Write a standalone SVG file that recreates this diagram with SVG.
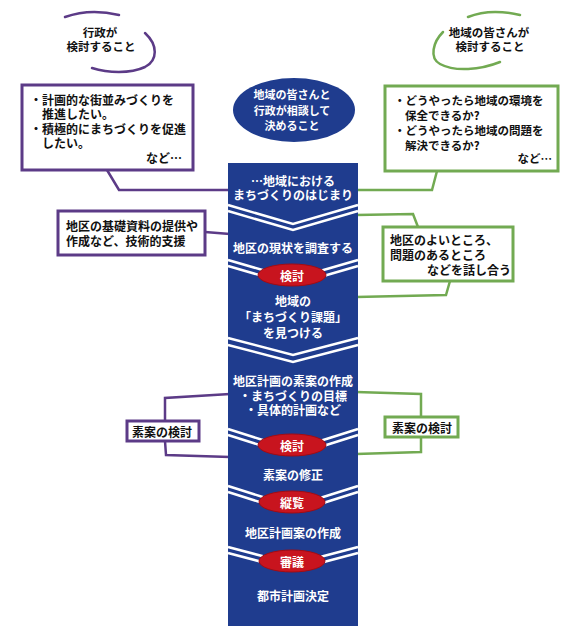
<svg xmlns="http://www.w3.org/2000/svg" width="580" height="637" viewBox="0 0 580 637">
<style>
text{font-family:"Noto Sans CJK JP","Noto Sans",sans-serif;font-weight:bold;font-size:12px;dominant-baseline:central}
.w{fill:#fff;text-anchor:middle}
.k{fill:#111}
.c{text-anchor:middle}
.pb{fill:#fff;stroke:#5c3b87;stroke-width:3}
.gb{fill:#fff;stroke:#72aa52;stroke-width:3}
.pl{fill:none;stroke:#5c3b87;stroke-width:2.5}
.gl{fill:none;stroke:#72aa52;stroke-width:2.5}
.sw{stroke-linecap:round}
.wl{fill:none;stroke:#fff;stroke-width:2.5}
.red{fill:#c8141e;stroke:#a00c14;stroke-width:1}
</style>
<rect width="580" height="637" fill="#fff"/>
<g id="connectors">
<path class="pl" d="M107,170 L119,190 L230,190"/>
<path class="gl" d="M437,171 L432,190 L356,190"/>
<path class="pl" d="M205,232 L230,234"/>
<path class="gl" d="M356,215 L413,214 L418,227"/>
<path class="gl" d="M450,281 L446,295 L356,297"/>
<path class="pl" d="M230,394 L165,398 L165,421 M165,441 L166,455 L230,457"/>
<path class="gl" d="M356,392 L421,394 L421,417 M421,437 L421,452 L356,454"/>
</g>
<g id="swoosh-admin">
<path class="pl sw" d="M65,17 Q90,8 119,15"/>
<path class="pl sw" d="M145,33 C158,45 158,60 145,67 C130,74 108,73 92,68"/>
<text class="k c" x="100" y="32" style="font-size:11.5px">行政が</text>
<text class="k c" x="101" y="46" style="font-size:11.5px">検討すること</text>
</g>
<g id="swoosh-residents">
<path class="gl sw" d="M468,17 Q490,8 520,15"/>
<path class="gl sw" d="M443,32 C433,42 429,58 440,64 C455,72 480,70 500,62"/>
<text class="k c" x="489" y="32" style="font-size:11.5px">地域の皆さんが</text>
<text class="k c" x="490" y="46" style="font-size:11.5px">検討すること</text>
</g>
<g id="box-admin">
<rect class="pb" x="22" y="85" width="171" height="85"/>
<text class="k" x="30" y="99">・計画的な街並みづくりを</text>
<text class="k" x="42" y="113">推進したい。</text>
<text class="k" x="30" y="128">・積極的にまちづくりを促進</text>
<text class="k" x="42" y="142">したい。</text>
<text class="k" x="182" y="157" text-anchor="end">など…</text>
</g>
<g id="box-residents">
<rect class="gb" x="385" y="86" width="173" height="85"/>
<text class="k" x="394" y="100" style="font-size:11.5px">・どうやったら地域の環境を</text>
<text class="k" x="405" y="115" style="font-size:11.5px">保全できるか?</text>
<text class="k" x="394" y="130" style="font-size:11.5px">・どうやったら地域の問題を</text>
<text class="k" x="405" y="145" style="font-size:11.5px">解決できるか?</text>
<text class="k" x="552" y="158" text-anchor="end" style="font-size:11.5px">など…</text>
</g>
<g id="ellipse-joint">
<ellipse cx="294" cy="110" rx="61" ry="32" fill="#1f3c8e"/>
<text class="w" x="292" y="94" style="font-size:11px">地域の皆さんと</text>
<text class="w" x="292" y="110" style="font-size:11px">行政が相談して</text>
<text class="w" x="292" y="125" style="font-size:11px">決めること</text>
</g>
<g id="column">
<rect x="228" y="163" width="130" height="463" fill="#1f3c8e"/>
<text class="w" x="293" y="180">…地域における</text>
<text class="w" x="293" y="194">まちづくりのはじまり</text>
<path class="wl" d="M228,205 L293,224 L358,205 M228,211 L293,230 L358,211"/>
<text class="w" x="293" y="247">地区の現状を調査する</text>
<path class="wl" d="M228,260 L266,271 M228,266 L266,277 M358,260 L320,271 M358,266 L320,277"/>
<text class="w" x="293" y="300">地域の</text>
<text class="w" x="293" y="316">「まちづくり課題」</text>
<text class="w" x="293" y="332">を見つける</text>
<path class="wl" d="M228,338 L293,355 L358,338 M228,345 L293,362 L358,345"/>
<text class="w" x="293" y="380">地区計画の素案の作成</text>
<text class="w" x="293" y="395">・まちづくりの目標</text>
<text class="w" x="293" y="409">・具体的計画など</text>
<path class="wl" d="M228,429 L266,441 M228,435 L266,447 M358,429 L320,441 M358,435 L320,447"/>
<text class="w" x="293" y="474">素案の修正</text>
<path class="wl" d="M228,486 L266,498 M228,492 L266,504 M358,486 L320,498 M358,492 L320,504"/>
<text class="w" x="293" y="532">地区計画案の作成</text>
<path class="wl" d="M228,547 L266,557 M228,553 L266,563 M358,547 L320,557 M358,553 L320,563"/>
<text class="w" x="293" y="595">都市計画決定</text>
</g>
<g id="step-kento1">
<ellipse class="red" cx="292" cy="275" rx="34" ry="11"/>
<text class="w" x="292" y="275">検討</text>
</g>
<g id="step-kento2">
<ellipse class="red" cx="292" cy="445" rx="34" ry="11"/>
<text class="w" x="292" y="445">検討</text>
</g>
<g id="step-juran">
<ellipse class="red" cx="292" cy="502" rx="33" ry="11"/>
<text class="w" x="292" y="502">縦覧</text>
</g>
<g id="step-shingi">
<ellipse class="red" cx="292" cy="561" rx="33" ry="11"/>
<text class="w" x="292" y="561">審議</text>
</g>
<g id="box-support">
<rect class="pb" x="58" y="211" width="147" height="44"/>
<text class="k" x="66" y="225">地区の基礎資料の提供や</text>
<text class="k" x="66" y="240">作成など、技術的支援</text>
</g>
<g id="box-discuss">
<rect class="gb" x="383" y="227" width="130" height="54"/>
<text class="k" x="390" y="239">地区のよいところ、</text>
<text class="k" x="390" y="254">問題のあるところ</text>
<text class="k" x="427" y="269">などを話し合う</text>
</g>
<g id="box-review-admin">
<rect class="pb" x="127" y="421" width="72" height="20"/>
<text class="k c" x="162" y="431">素案の検討</text>
</g>
<g id="box-review-residents">
<rect class="gb" x="385" y="417" width="73" height="20"/>
<text class="k c" x="422" y="427">素案の検討</text>
</g>
</svg>
